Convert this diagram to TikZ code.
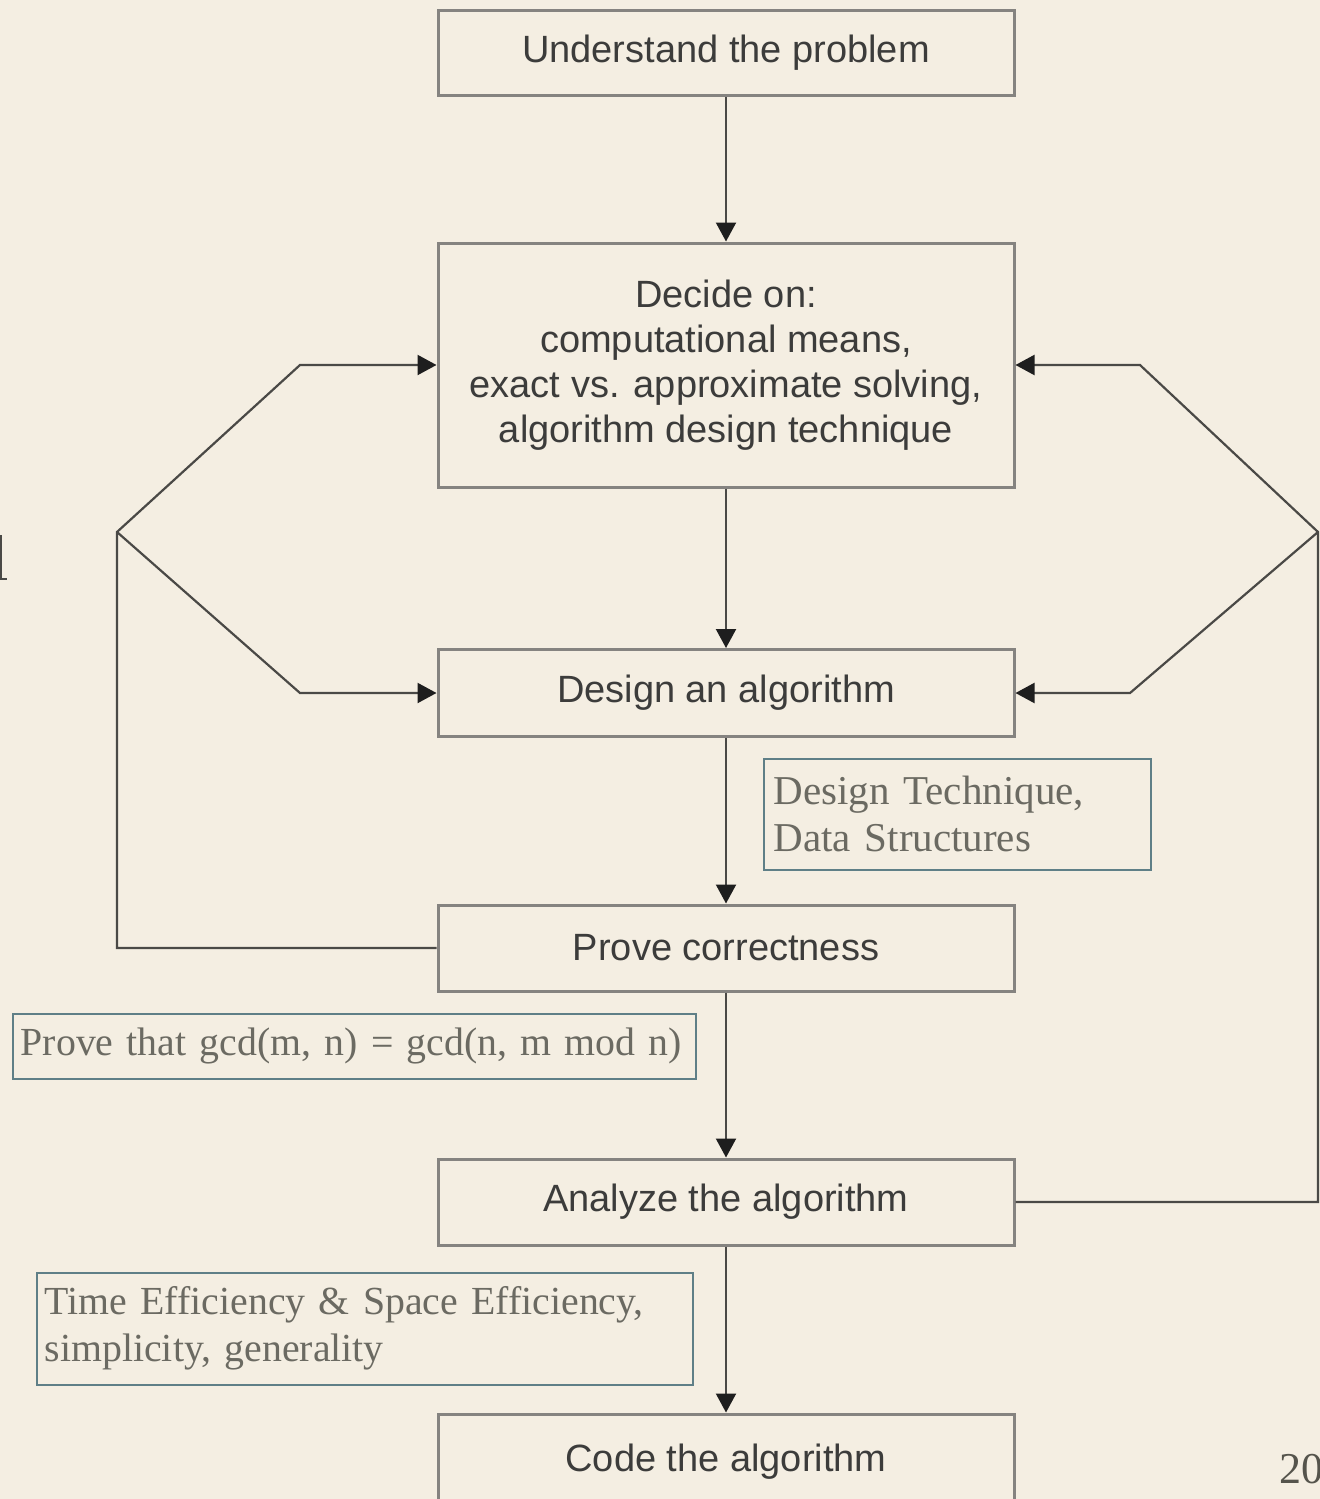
\documentclass[tikz,border=0pt]{standalone}
\usepackage{fontspec}
\setmainfont[WordSpace=0.85]{Liberation Serif}
\newfontfamily\boxfont{Liberation Sans}
\usetikzlibrary{arrows.meta}
\definecolor{paper}{HTML}{F4EEE2}
\definecolor{boxline}{HTML}{858380}
\definecolor{boxtext}{HTML}{3C3C3B}
\definecolor{flowline}{HTML}{4A4946}
\definecolor{tipcol}{HTML}{1E1E1E}
\definecolor{noteline}{HTML}{5F7F87}
\definecolor{notetext}{HTML}{6B6A62}
\definecolor{pagenum}{HTML}{55544C}
\begin{document}
\begin{tikzpicture}[x=0.5pt,y=-0.5pt,
  stepbox/.style={draw=boxline, line width=1.5pt, minimum width=288pt,
    inner sep=0pt, align=center, text=boxtext,
    font=\boxfont\fontsize{19}{22.5}\selectfont},
  flow/.style={draw=flowline, line width=1.1pt,
    -{Triangle[length=9.5pt,width=10pt,color=tipcol]}},
  note/.style={draw=noteline, line width=0.75pt, anchor=north west,
    inner ysep=0pt, align=left, text=notetext,
    font=\fontsize{20.5}{23.5}\selectfont}]
\useasboundingbox (0,0) rectangle (1320,1499);
\fill[paper] (0,0) rectangle (1320,1499);

% main steps
\node[stepbox, minimum height=42.5pt] (b1) at (726,53) {Understand the problem};
\node[stepbox, minimum height=122pt] (b2) at (726,365)
  {Decide on:\\computational means,\\exact vs. approximate solving,\\algorithm design technique};
\node[stepbox, minimum height=43.5pt] (b3) at (726,693) {Design an algorithm};
\node[stepbox, minimum height=43pt] (b4) at (726,948) {Prove correctness};
\node[stepbox, minimum height=43pt] (b5) at (726,1202) {Analyze the algorithm};
\node[stepbox, minimum height=48pt] (b6) at (726,1462) {Code the algorithm};

% straight flow
\draw[flow] (b1) -- (b2);
\draw[flow] (b2) -- (b3);
\draw[flow] (b3) -- (b4);
\draw[flow] (b4) -- (b5);
\draw[flow] (b5) -- (b6);

% feedback loops
\coordinate (lj) at (117,532);
\coordinate (lu) at (300,365);
\coordinate (ll) at (300,693);
\coordinate (rj) at (1318,532);
\coordinate (ru) at (1140,365);
\coordinate (rl) at (1130,693);
\draw[flow] (b4.west) -| (lj) -- (lu) -- (b2.west);
\draw[flow] (lj) -- (ll) -- (b3.west);
\draw[flow] (b5.east) -| (rj) -- (ru) -- (b2.east);
\draw[flow] (rj) -- (rl) -- (b3.east);

% annotations
\node[note, inner xsep=5pt, minimum width=193.5pt, minimum height=55.5pt,
  text width=183.5pt] (n1) at (763,758) {Design Technique,\\Data Structures};
\node[note, inner xsep=4pt, minimum width=341.5pt, minimum height=32.5pt,
  text width=333.5pt, font=\fontsize{19.9}{23}\selectfont] (n2) at (12,1013)
  {Prove that gcd(m, n) = gcd(n, m mod n)};
\node[note, inner xsep=4pt, minimum width=328pt, minimum height=56pt,
  text width=320pt, font=\fontsize{19.9}{23.5}\selectfont] (n3) at (36,1272)
  {Time Efficiency \& Space Efficiency,\\simplicity, generality};

% edge fragment and page number
\draw[flowline, line width=1pt] (1,535) -- (1,579) -- (7,579);
\node[anchor=base west, inner sep=0pt, text=pagenum,
  font=\fontsize{22}{24}\selectfont] (pg) at (1279,1483) {20};
\end{tikzpicture}
\end{document}
